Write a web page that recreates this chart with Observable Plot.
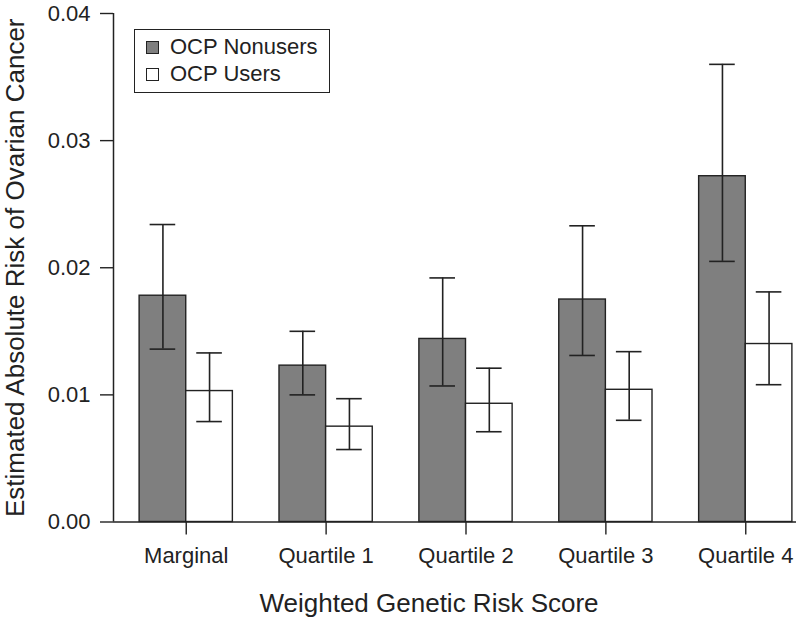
<!DOCTYPE html>
<html><head><meta charset="utf-8">
<script src="https://cdn.jsdelivr.net/npm/d3@7"></script>
<script src="https://cdn.jsdelivr.net/npm/@observablehq/plot@0.6"></script>
<style>
html,body{margin:0;padding:0;background:#fff;}
#wrap{position:relative;width:796px;height:617px;overflow:hidden;font-family:"Liberation Sans",Arial,sans-serif;}
#legend{position:absolute;left:134px;top:29px;width:196px;height:64px;box-sizing:border-box;border:1.5px solid #222;background:#fff;}
.item{position:absolute;left:0;height:22px;line-height:22px;font-size:22px;color:#222;white-space:nowrap;}
.sw{position:absolute;width:13px;height:13px;box-sizing:border-box;border:1.4px solid #222;}
</style></head>
<body><div id="wrap"></div>
<script>
// ---- data ----
const categories = ["Marginal", "Quartile 1", "Quartile 2", "Quartile 3", "Quartile 4"];
const series = ["OCP Nonusers", "OCP Users"];
const nonusers   = [0.0178, 0.0123, 0.0144, 0.0175, 0.0272];
const nonusersLo = [0.0136, 0.0100, 0.0107, 0.0131, 0.0205];
const nonusersHi = [0.0234, 0.0150, 0.0192, 0.0233, 0.0360];
const users      = [0.0103, 0.0075, 0.0093, 0.0104, 0.0140];
const usersLo    = [0.0079, 0.0057, 0.0071, 0.0080, 0.0108];
const usersHi    = [0.0133, 0.0097, 0.0121, 0.0134, 0.0181];
const yTicks = [0, 0.01, 0.02, 0.03, 0.04];
const xTitle = "Weighted Genetic Risk Score";
const yTitle = "Estimated Absolute Risk of Ovarian Cancer";
const fills = ["#7f7f7f", "#ffffff"];

// ---- layout like R barplot(beside=TRUE): one empty slot before each group ----
const rows = [];
categories.forEach((c, i) => {
  rows.push({category: c, series: series[0], value: nonusers[i], lo: nonusersLo[i], hi: nonusersHi[i], slot: 3 * i + 1});
  rows.push({category: c, series: series[1], value: users[i], lo: usersLo[i], hi: usersHi[i], slot: 3 * i + 2});
});
const nSlots = 3 * categories.length - 1;
const xDomain = [1 - 0.04 * nSlots, 1 + nSlots + 0.04 * nSlots];
const tickPos = categories.map((c, i) => 3 * i + 2);
const tickLabel = new Map(categories.map((c, i) => [3 * i + 2, c]));

const ink = "#222";
const chart = Plot.plot({
  width: 796,
  height: 617,
  marginLeft: 113,
  marginRight: -22,
  marginTop: 13,
  marginBottom: 95.5,
  style: {fontFamily: '"Liberation Sans", Arial, sans-serif', color: ink, background: "white"},
  x: {type: "linear", domain: xDomain, axis: null},
  y: {domain: [0, 0.04], axis: null},
  color: {domain: series, range: fills},
  marks: [
    Plot.rectY(rows, {x1: "slot", x2: d => d.slot + 1, y1: 0, y2: "value", fill: "series", stroke: ink, strokeWidth: 1.4}),
    Plot.ruleX(rows, {x: d => d.slot + 0.5, y1: "lo", y2: "hi", stroke: ink, strokeWidth: 1.6}),
    Plot.ruleY(rows, {x1: d => d.slot + 0.5, x2: d => d.slot + 0.5, y: "lo", insetLeft: -12.8, insetRight: -12.8, stroke: ink, strokeWidth: 1.6}),
    Plot.ruleY(rows, {x1: d => d.slot + 0.5, x2: d => d.slot + 0.5, y: "hi", insetLeft: -12.8, insetRight: -12.8, stroke: ink, strokeWidth: 1.6}),
    Plot.ruleY([0], {stroke: ink, strokeWidth: 1.5}),
    Plot.ruleX([xDomain[0]], {y1: yTicks[0], y2: yTicks[yTicks.length - 1], stroke: ink, strokeWidth: 1.5}),
    Plot.axisY(yTicks, {tickSize: 13, tickPadding: 10, tickFormat: d3.format(".2f"), fontSize: 22, label: null, stroke: ink, strokeWidth: 1.4, fill: ink}),
    Plot.axisX(tickPos, {tickSize: 13, tickPadding: 12, tickFormat: d => tickLabel.get(d), fontSize: 22, label: null, stroke: ink, strokeWidth: 1.4, fill: ink}),
    Plot.text([xTitle], {text: d => d, frameAnchor: "bottom", lineAnchor: "bottom", textAnchor: "middle", dy: 89.5, dx: -37, fontSize: 26, fill: ink}),
    Plot.text([yTitle], {text: d => d, frameAnchor: "left", rotate: -90, lineAnchor: "bottom", textAnchor: "middle", dx: -90, fontSize: 26, fill: ink})
  ]
});
const wrap = document.getElementById("wrap");
wrap.appendChild(chart);

// ---- legend (inside the plot area, top-left) ----
const legend = document.createElement("div");
legend.id = "legend";
series.forEach((s, i) => {
  const sw = document.createElement("div");
  sw.className = "sw";
  sw.style.left = "10.5px";
  sw.style.top = (10.5 + 27 * i) + "px";
  sw.style.background = fills[i];
  legend.appendChild(sw);
  const it = document.createElement("div");
  it.className = "item";
  it.style.left = "35px";
  it.style.top = (6 + 27 * i) + "px";
  it.textContent = s;
  legend.appendChild(it);
});
wrap.appendChild(legend);
</script>
</body></html>
